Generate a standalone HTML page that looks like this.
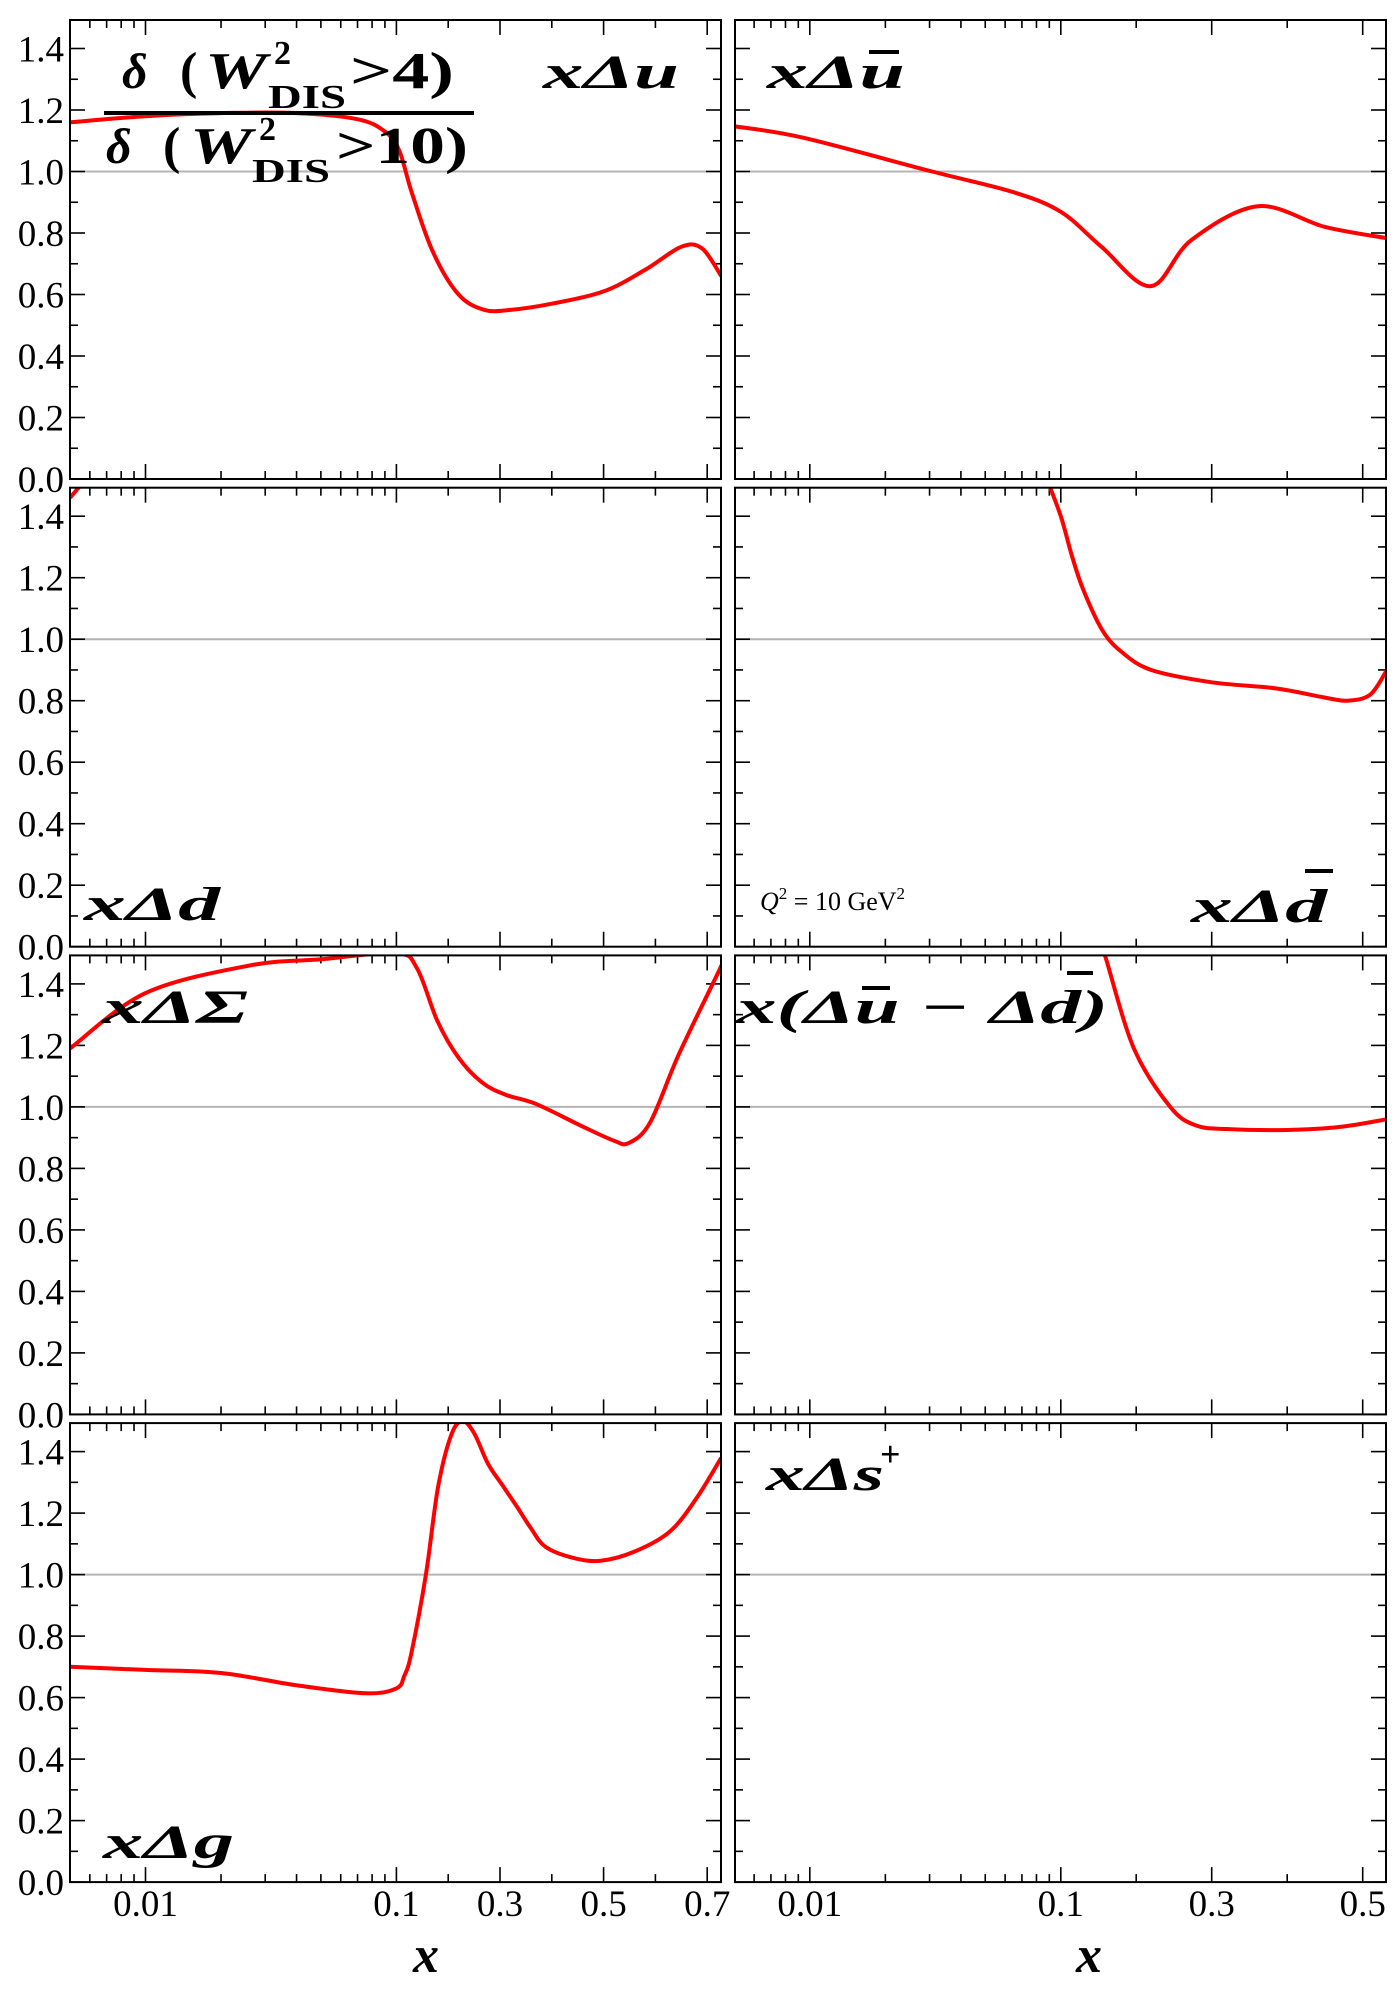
<!DOCTYPE html>
<html><head><meta charset="utf-8"><style>
html,body{margin:0;padding:0;background:#fff;}
svg{display:block;}
text{font-family:"Liberation Serif",serif;}
</style></head><body>
<svg id="chart" width="1400" height="2000" viewBox="0 0 1400 2000" xmlns="http://www.w3.org/2000/svg">
<g id="grid"></g>
<g id="labels">
  <text x="122" y="88" font-size="50" font-weight="bold" font-style="italic">δ</text>
  <text x="180" y="88" font-size="52" font-weight="bold">(</text>
  <text x="205" y="88" font-size="52" font-weight="bold" font-style="italic" textLength="62" lengthAdjust="spacingAndGlyphs">W</text>
  <text x="274" y="64" font-size="34" font-weight="bold">2</text>
  <text x="268" y="108" font-size="34" font-weight="bold" textLength="78" lengthAdjust="spacingAndGlyphs">DIS</text>
  <text x="350" y="88" font-size="52" font-weight="bold" textLength="104" lengthAdjust="spacingAndGlyphs">&gt;4)</text>
  <rect x="104" y="111" width="370" height="4" fill="#000"/>
  <text x="106" y="163" font-size="50" font-weight="bold" font-style="italic">δ</text>
  <text x="163" y="163" font-size="52" font-weight="bold">(</text>
  <text x="190" y="163" font-size="52" font-weight="bold" font-style="italic" textLength="62" lengthAdjust="spacingAndGlyphs">W</text>
  <text x="259" y="140" font-size="34" font-weight="bold">2</text>
  <text x="252" y="182" font-size="34" font-weight="bold" textLength="78" lengthAdjust="spacingAndGlyphs">DIS</text>
  <text x="336" y="163" font-size="52" font-weight="bold" textLength="132" lengthAdjust="spacingAndGlyphs">&gt;10)</text>

  <text x="543" y="88" font-size="48" font-weight="bold" font-style="italic" textLength="136" lengthAdjust="spacingAndGlyphs">xΔu</text>
  <text x="767" y="88" font-size="48" font-weight="bold" font-style="italic" textLength="138" lengthAdjust="spacingAndGlyphs">xΔu</text>
  <rect x="869" y="50" width="30" height="4" fill="#000"/>
  <text x="84" y="920" font-size="48" font-weight="bold" font-style="italic" textLength="136" lengthAdjust="spacingAndGlyphs">xΔd</text>
  <text x="760" y="910" font-size="26" font-style="italic">Q<tspan font-size="17" dy="-11" font-style="normal">2</tspan><tspan dy="11" font-style="normal"> = 10 GeV</tspan><tspan font-size="17" dy="-11" font-style="normal">2</tspan></text>
  <text x="1191" y="922" font-size="48" font-weight="bold" font-style="italic" textLength="136" lengthAdjust="spacingAndGlyphs">xΔd</text>
  <rect x="1305" y="869" width="28" height="4" fill="#000"/>
  <text x="102" y="1023" font-size="48" font-weight="bold" font-style="italic" textLength="146" lengthAdjust="spacingAndGlyphs">xΔΣ</text>
  <text x="736" y="1023" font-size="48" font-weight="bold" font-style="italic" textLength="372" lengthAdjust="spacingAndGlyphs">x(Δu − Δd)</text>
  <rect x="862" y="986" width="28" height="4" fill="#000"/>
  <rect x="1067" y="971" width="26" height="4" fill="#000"/>
  <text x="103" y="1858" font-size="48" font-weight="bold" font-style="italic" textLength="131" lengthAdjust="spacingAndGlyphs">xΔg</text>
  <text x="766" y="1490" font-size="48" font-weight="bold" font-style="italic" textLength="118" lengthAdjust="spacingAndGlyphs">xΔs</text>
  <text x="880" y="1466" font-size="36" font-weight="bold">+</text>

  <text x="413" y="1972" font-size="52" font-weight="bold" font-style="italic">x</text>
  <text x="1076" y="1972" font-size="52" font-weight="bold" font-style="italic">x</text>
</g>
</svg>
<script>
const NS = "http://www.w3.org/2000/svg";
const svg = document.getElementById('chart');
const grid = document.getElementById('grid');

// ---- data ----
const uX = [0.005,0.01,0.02,0.04,0.07,0.09,0.105,0.13,0.17,0.22,0.27,0.32,0.4,0.5,0.58,0.65,0.69,0.727];
const uY = [1.16,1.18,1.19,1.19,1.17,1.13,1.07,0.93,0.74,0.60,0.55,0.55,0.57,0.61,0.68,0.755,0.75,0.66];
const ubX = [0.005,0.0094,0.0307,0.064,0.1,0.154,0.219,0.273,0.361,0.45,0.532];
const ubY = [1.147,1.11,1.0,0.934,0.869,0.755,0.627,0.777,0.887,0.82,0.783];
const dX = [0.005,0.0055,0.006];
const dY = [1.46,1.50,1.54];
const dbX = [0.088,0.1,0.115,0.13,0.155,0.18,0.22,0.3,0.385,0.45,0.48,0.51,0.532];
const dbY = [1.52,1.40,1.27,1.16,1.03,0.96,0.90,0.86,0.84,0.81,0.80,0.82,0.90];
const sigX = [0.005,0.01,0.026,0.05,0.1,0.14,0.179,0.22,0.265,0.31,0.369,0.455,0.52,0.549,0.59,0.645,0.722,0.73];
const sigY = [1.19,1.37,1.46,1.48,1.50,1.45,1.28,1.16,1.08,1.04,1.01,0.94,0.89,0.883,0.95,1.17,1.44,1.47];
const udX = [0.15,0.159,0.197,0.245,0.279,0.32,0.4,0.47,0.532];
const udY = [1.55,1.49,1.19,1.0,0.94,0.928,0.925,0.935,0.96];
const gX = [0.005,0.01,0.02,0.04,0.0756,0.1,0.115,0.129,0.157,0.18,0.205,0.227,0.25,0.277,0.305,0.333,0.36,0.388,0.44,0.494,0.56,0.628,0.68,0.727];
const gY = [0.70,0.69,0.68,0.64,0.614,0.63,0.67,0.745,1.0,1.28,1.45,1.50,1.46,1.36,1.29,1.22,1.15,1.09,1.055,1.045,1.075,1.14,1.25,1.38];
const sX = [];
const sY = [];
const yTicks = [0.0,0.2,0.4,0.6,0.8,1.0,1.2,1.4];
const yTickLabels = ["0.0","0.2","0.4","0.6","0.8","1.0","1.2","1.4"];
const xTicksLeft = [0.01,0.1,0.3,0.5,0.7];
const xTickLabelsLeft = ["0.01","0.1","0.3","0.5","0.7"];
const xTicksRight = [0.01,0.1,0.3,0.5];
const xTickLabelsRight = ["0.01","0.1","0.3","0.5"];

// ---- layout ----
const cols = [
  {L:70, R:721, p01:145.5, dec:250.9, p1:396.4, lin:518, xmax:0.727},
  {L:735, R:1386, p01:809.8, dec:251, p1:1060.7, lin:755, xmax:0.532}
];
const rowTop = r => 20 + 467.7*r;
const rowBot = r => rowTop(r) + 459;
const YU = 307.5;
function xs(c, v){ const C=cols[c]; return v<=0.1 ? C.p01 + C.dec*Math.log10(v/0.01) : C.p1 + (v-0.1)*C.lin; }
function ys(r, v){ return rowBot(r) - v*YU; }

function mk(tag, attrs, parent){ const e=document.createElementNS(NS,tag); for(const k in attrs) e.setAttribute(k,attrs[k]); (parent||grid).appendChild(e); return e; }

const panels = [
  {r:0,c:0,x:uX,y:uY,n:'x-delta-u'},{r:0,c:1,x:ubX,y:ubY,n:'x-delta-ubar'},
  {r:1,c:0,x:dX,y:dY,n:'x-delta-d'},{r:1,c:1,x:dbX,y:dbY,n:'x-delta-dbar'},
  {r:2,c:0,x:sigX,y:sigY,n:'x-delta-sigma'},{r:2,c:1,x:udX,y:udY,n:'x-ubar-minus-dbar'},
  {r:3,c:0,x:gX,y:gY,n:'x-delta-g'},{r:3,c:1,x:sX,y:sY,n:'x-delta-splus'}
];

const defs = mk('defs',{});
panels.forEach((p,i)=>{
  const C=cols[p.c], T=rowTop(p.r), B=rowBot(p.r);
  const g = mk('g',{});
  
  
  const cp = mk('clipPath',{id:'cp'+i},defs);
  mk('rect',{x:C.L,y:T,width:C.R-C.L,height:B-T},cp);
  const ref = mk('line',{x1:C.L,x2:C.R,y1:ys(p.r,1),y2:ys(p.r,1),stroke:'#b4b4b4','stroke-width':2},g);
  
  
  for(let k=0;k<=14;k++){
    const v=k*0.1, y=ys(p.r,v), len = k%2===0?15:8;
    mk('line',{x1:C.L,x2:C.L+len,y1:y,y2:y,stroke:'#000','stroke-width':1.6},g);
    mk('line',{x1:C.R,x2:C.R-len,y1:y,y2:y,stroke:'#000','stroke-width':1.6},g);
  }
  if(p.c===0){
    yTicks.forEach((v,k)=>{
      const t = mk('text',{x:64,y:ys(p.r,v)+13,'font-size':37,'text-anchor':'end'},g);
      
      
      t.textContent = yTickLabels[k];
    });
  }
  const minors=[], majors = p.c===0?xTicksLeft:xTicksRight;
  for(let m=6;m<=9;m++) minors.push(m*0.001);
  for(let m=2;m<=9;m++) minors.push(m*0.01);
  [0.2,0.4,0.6].forEach(v=>{ if(v<C.xmax) minors.push(v); });
  minors.forEach(v=>{ const x=xs(p.c,v);
    mk('line',{x1:x,x2:x,y1:B,y2:B-8,stroke:'#000','stroke-width':1.6},g);
    mk('line',{x1:x,x2:x,y1:T,y2:T+8,stroke:'#000','stroke-width':1.6},g); });
  majors.forEach(v=>{ const x=xs(p.c,v);
    mk('line',{x1:x,x2:x,y1:B,y2:B-15,stroke:'#000','stroke-width':1.6},g);
    mk('line',{x1:x,x2:x,y1:T,y2:T+15,stroke:'#000','stroke-width':1.6},g); });
  if(p.r===3){
    const labs = p.c===0?xTickLabelsLeft:xTickLabelsRight;
    majors.forEach((v,k)=>{
      const t = mk('text',{x:xs(p.c,v),y:1916,'font-size':37,'text-anchor':'middle'},g);
      
      
      t.textContent = labs[k];
    });
  }
  if(p.x.length>1){
    const pts = p.x.map((v,k)=>[xs(p.c,v), ys(p.r,p.y[k])]);
    let d='M'+pts[0][0].toFixed(1)+','+pts[0][1].toFixed(1);
    for(let k=0;k<pts.length-1;k++){
      const p0=pts[Math.max(0,k-1)], p1=pts[k], p2=pts[k+1], p3=pts[Math.min(pts.length-1,k+2)];
      const c1=[p1[0]+(p2[0]-p0[0])/6, p1[1]+(p2[1]-p0[1])/6];
      const c2=[p2[0]-(p3[0]-p1[0])/6, p2[1]-(p3[1]-p1[1])/6];
      d+=' C'+c1.map(n=>n.toFixed(1)).join(',')+' '+c2.map(n=>n.toFixed(1)).join(',')+' '+p2.map(n=>n.toFixed(1)).join(',');
    }
    const path = mk('path',{d:d,fill:'none',stroke:'#ff0000','stroke-width':4,'clip-path':'url(#cp'+i+')'},g);
    
    
  }
  const fr = mk('rect',{x:C.L,y:T,width:C.R-C.L,height:B-T,fill:'none',stroke:'#000','stroke-width':2},g);
  
  
});
</script>
</body></html>
